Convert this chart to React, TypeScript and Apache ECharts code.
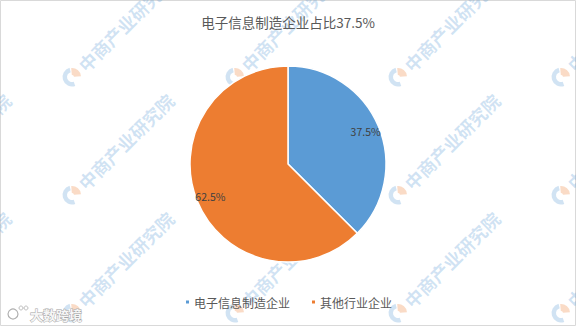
import React, { useEffect, useRef } from "react";
import * as echarts from "echarts";

// Share of enterprises by industry
const categories = ["电子信息制造企业", "其他行业企业"];
const shares = [37.5, 62.5];
const sliceColors = ["#5b9bd5", "#ed7d31"];
const titleText = "电子信息制造企业占比37.5%";
const watermarkText = "中商产业研究院";
const cornerMarkText = "大数跨境";

const FONT = '"Noto Sans CJK SC", "Microsoft YaHei", sans-serif';

// Repeating diagonal watermark: logo + organisation name, tilted 45°
function buildWatermarks() {
  const items: any[] = [];
  const deg = Math.PI / 180;
  for (let col = -1; col <= 3; col++) {
    for (let row = 0; row <= 2; row++) {
      const x = 72 + col * 163;
      const y = 77 + row * 118;
      items.push({
        type: "group",
        x,
        y,
        rotation: Math.PI / 4,
        silent: true,
        z: 100,
        children: [
          {
            type: "sector",
            shape: { cx: 0, cy: 0, r: 9.5, r0: 5, startAngle: 115 * deg, endAngle: 300 * deg, clockwise: true },
            style: { fill: "rgba(91,155,213,0.28)" },
          },
          {
            type: "sector",
            shape: { cx: 0, cy: 0, r: 9, r0: 2, startAngle: -50 * deg, endAngle: 40 * deg, clockwise: true },
            style: { fill: "rgba(237,125,49,0.28)" },
          },
          {
            type: "text",
            x: 13,
            y: 0,
            style: {
              text: watermarkText,
              fill: "rgba(91,155,213,0.28)",
              font: `bold 18px ${FONT}`,
              verticalAlign: "middle",
              align: "left",
            },
          },
        ],
      });
    }
  }
  return items;
}

export default function App() {
  const ref = useRef<HTMLDivElement>(null);

  useEffect(() => {
    if (!ref.current) return;
    const chart = echarts.init(ref.current, undefined, { renderer: "svg" });

    const pieData = categories.map((name, i) => ({
      name,
      value: shares[i],
      itemStyle: { color: sliceColors[i] },
    }));

    chart.setOption({
      animation: false,
      backgroundColor: "#ffffff",
      title: {
        text: titleText,
        left: "center",
        top: 10,
        textStyle: { fontFamily: FONT, fontSize: 13.5, fontWeight: "normal", color: "#595959" },
      },
      legend: {
        bottom: 13,
        left: "center",
        icon: "rect",
        itemWidth: 5,
        itemHeight: 5,
        itemGap: 20,
        textStyle: { fontFamily: FONT, fontSize: 12, color: "#595959", padding: [0, 0, 0, -1] },
        data: categories.map((name, i) => ({ name, itemStyle: { color: sliceColors[i] } })),
      },
      series: [
        {
          type: "pie",
          name: "占比",
          center: [288, 164],
          radius: [0, 98],
          startAngle: 90,
          clockwise: true,
          label: { show: false },
          labelLine: { show: false },
          emphasis: { disabled: true },
          itemStyle: { borderColor: "#ffffff", borderWidth: 1.5 },
          data: pieData,
        },
        {
          // transparent ring used only to place the percentage labels
          type: "pie",
          name: "标签",
          center: [288, 164],
          radius: [64, 98],
          startAngle: 90,
          clockwise: true,
          silent: true,
          emphasis: { disabled: true },
          itemStyle: { color: "rgba(0,0,0,0)", borderWidth: 0 },
          label: {
            show: true,
            position: "inside",
            fontFamily: FONT,
            fontSize: 10.5,
            color: "#404040",
            formatter: (p: any) => `${p.value}%`,
          },
          labelLine: { show: false },
          data: categories.map((name, i) => ({ name, value: shares[i] })),
        },
      ],
      graphic: [
        {
          type: "rect",
          shape: { x: 0.5, y: 0.5, width: 575, height: 325 },
          style: { fill: "none", stroke: "#d9d9d9", lineWidth: 1 },
          silent: true,
          z: 0,
        },
        ...buildWatermarks(),
        {
          type: "group",
          silent: true,
          z: 110,
          children: [
            {
              type: "circle",
              shape: { cx: 13, cy: 314, r: 5 },
              style: { fill: "none", stroke: "#b0b0b0", lineWidth: 1.2 },
            },
            {
              type: "circle",
              shape: { cx: 21, cy: 308, r: 2 },
              style: { fill: "none", stroke: "#b0b0b0", lineWidth: 0.8 },
            },
            {
              type: "circle",
              shape: { cx: 26, cy: 308, r: 2 },
              style: { fill: "none", stroke: "#b0b0b0", lineWidth: 0.8 },
            },
            {
              type: "text",
              x: 30,
              y: 314,
              style: {
                text: cornerMarkText,
                font: `bold 13px ${FONT}`,
                fill: "#f6f6f6",
                stroke: "#a6a6a6",
                lineWidth: 1,
                verticalAlign: "middle",
                align: "left",
              },
            },
          ],
        },
      ],
    });

    return () => chart.dispose();
  }, []);

  return (
    <div
      ref={ref}
      style={{ position: "absolute", left: 0, top: 0, width: 576, height: 326, background: "#fff" }}
    />
  );
}
